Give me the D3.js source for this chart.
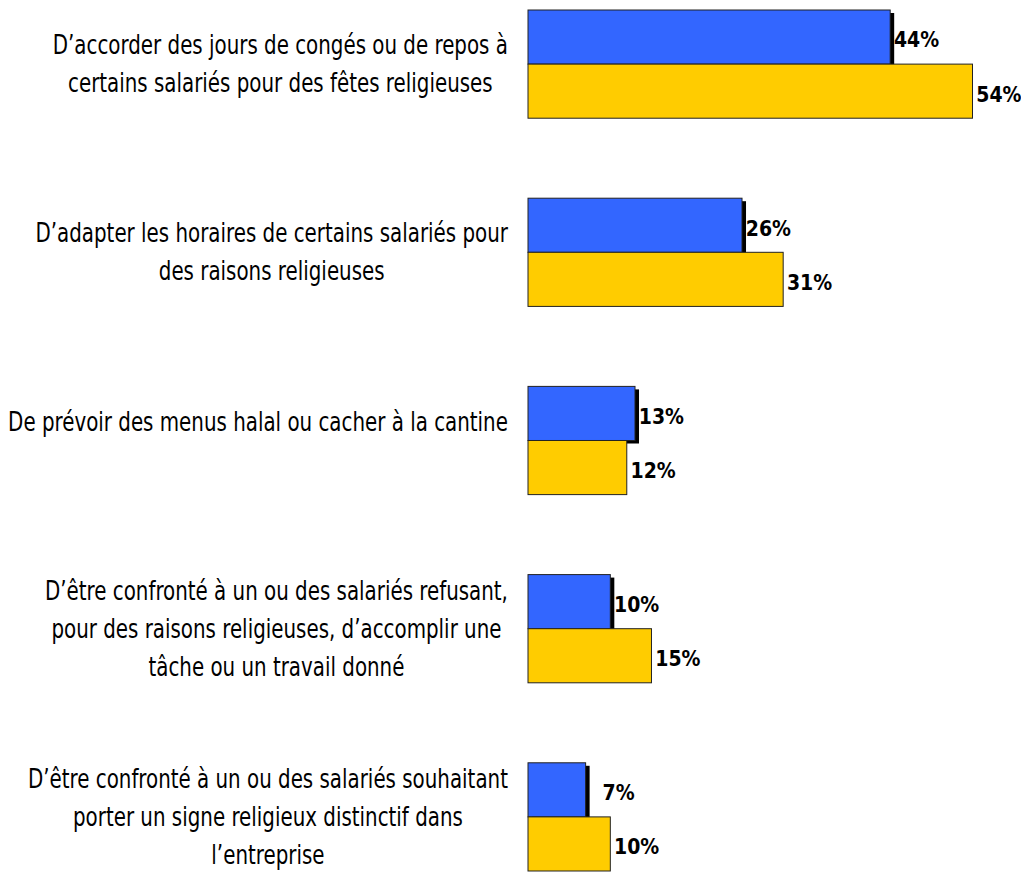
<!DOCTYPE html>
<html lang="fr">
<head>
<meta charset="UTF-8">
<title>Chart</title>
<script src="https://d3js.org/d3.v7.min.js"></script>
<style>
  body { margin: 0; background: #fff; }
  .cat { font-family: "DejaVu Sans Condensed", "Liberation Sans Narrow", sans-serif; font-size: 26px; fill: #000; }
  .val { font-family: "DejaVu Sans Condensed", sans-serif; font-weight: bold; font-size: 21px; fill: #000; }
</style>
</head>
<body>
<script>
// category labels, one entry per line (group 3 keeps an empty trailing line, as in the source)
var categories = [
  ["D\u2019accorder des jours de cong\u00e9s ou de repos \u00e0", "certains salari\u00e9s pour des f\u00eates religieuses"],
  ["D\u2019adapter les horaires de certains salari\u00e9s pour", "des raisons religieuses"],
  ["De pr\u00e9voir des menus halal ou cacher \u00e0 la cantine", ""],
  ["D\u2019\u00eatre confront\u00e9 \u00e0 un ou des salari\u00e9s refusant,", "pour des raisons religieuses, d\u2019accomplir une", "t\u00e2che ou un travail donn\u00e9"],
  ["D\u2019\u00eatre confront\u00e9 \u00e0 un ou des salari\u00e9s souhaitant", "porter un signe religieux distinctif dans", "l\u2019entreprise"]
];
var seriesBlue = [44, 26, 13, 10, 7];
var seriesYellow = [54, 31, 12, 15, 10];
var seriesNames = ["bleu", "jaune"];

var width = 1021, height = 872;
var colors = {bleu: "#3366ff", jaune: "#ffcc00"};

var svg = d3.select("body").append("svg")
  .attr("width", width)
  .attr("height", height);

var ids = categories.map(function(d, i) { return "c" + i; });

var y = d3.scaleBand()
  .domain(ids)
  .range([10, 871])
  .paddingInner(0.425)
  .paddingOuter(0);

var ySub = d3.scaleBand()
  .domain(seriesNames)
  .range([0, y.bandwidth()]);

var x = d3.scaleLinear()
  .domain([0, 54])
  .range([528, 972.5]);

var rows = categories.map(function(c, i) {
  return {id: ids[i], lines: c, bleu: seriesBlue[i], jaune: seriesYellow[i]};
});

var g = svg.selectAll(".grp")
  .data(rows)
  .enter().append("g")
  .attr("class", "grp")
  .attr("transform", function(d) { return "translate(0," + y(d.id) + ")"; });

// shadow of the blue bar
g.append("rect")
  .attr("x", x(0) + 4)
  .attr("y", ySub("bleu") + 3)
  .attr("width", function(d) { return x(d.bleu) - x(0); })
  .attr("height", ySub.bandwidth())
  .attr("fill", "#000");

seriesNames.forEach(function(s) {
  g.append("rect")
    .attr("x", x(0))
    .attr("y", ySub(s))
    .attr("width", function(d) { return x(d[s]) - x(0); })
    .attr("height", ySub.bandwidth())
    .attr("fill", colors[s])
    .attr("stroke", "#222")
    .attr("stroke-width", 1);

  g.append("text")
    .attr("class", "val")
    .attr("x", function(d) { return x(d[s]) + 49; })
    .attr("y", ySub(s) + ySub.bandwidth() / 2 + 3)
    .attr("dy", "0.35em")
    .attr("text-anchor", "end")
    .text(function(d) { return d[s] + "%"; });
});

// category labels: lines centred together, block right-aligned next to the bars
var lineH = 38;
var labelRight = 508, widestLine = 500;
var labels = g.append("g").attr("class", "lab");
var texts = labels.append("text")
  .attr("class", "cat")
  .attr("text-anchor", "middle");
texts.each(function(d) {
  var t = d3.select(this);
  var n = d.lines.length;
  var mid = y.bandwidth() / 2;
  d.lines.forEach(function(line, k) {
    t.append("tspan")
      .attr("x", 0)
      .attr("y", mid + (k - (n - 1) / 2) * lineH)
      .attr("dy", "0.35em")
      .text(line);
  });
  d.w = d3.max(t.selectAll("tspan").nodes(), function(n) { return n.getComputedTextLength(); });
});
var maxW = d3.max(rows, function(d) { return d.w; });
var k = widestLine / maxW;
labels.attr("transform", "translate(" + labelRight + ",0) scale(" + k + ",1)");
texts.selectAll("tspan").attr("x", function() {
  return -this.parentNode.__data__.w / 2;
});
</script>
</body>
</html>
